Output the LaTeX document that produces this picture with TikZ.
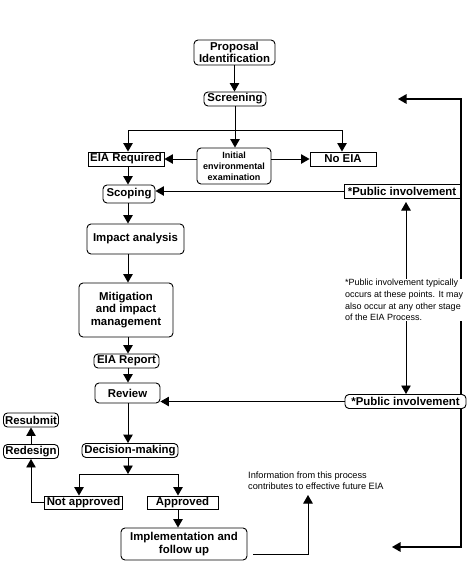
\documentclass[tikz,border=0pt]{standalone}
\usepackage{fontspec}
\setmainfont{Liberation Sans}
\usetikzlibrary{arrows.meta,calc,backgrounds}
\begin{document}
\begin{tikzpicture}[x=1pt,y=-1pt,
 tip/.tip={Triangle[length=8.5pt,width=9.5pt]},
 arr/.style={-tip, line width=0.9pt},
 arrb/.style={tip-tip, line width=0.9pt},
 ln/.style={line width=0.9pt},
 bx/.style={draw, line width=0.9pt, fill=white, inner sep=0pt, align=center, font=\fontsize{11.4}{12.8}\selectfont\bfseries},
 rb/.style={bx, rounded corners=4pt},
 sm/.style={font=\fontsize{9}{11}\selectfont\bfseries},
 note/.style={align=left, inner sep=0pt, fill=white, font=\fontsize{9}{11.7}\selectfont}
]
\useasboundingbox (0,0) rectangle (474,576);

% boxes
\node[rb, minimum width=81, minimum height=25] (prop) at (234.5,52.5) {Proposal\\Identification};
\node[rb, minimum width=62, minimum height=14] (screen) at (235,99) {Screening};
\node[bx, minimum width=76, minimum height=14] (eiareq) at (126,159) {EIA Required};
\node[rb, sm, minimum width=74, minimum height=36] (iee) at (234,166) {Initial\\environmental\\examination};
\node[bx, minimum width=66, minimum height=14] (noeia) at (343,159) {No EIA};
\node[rb, minimum width=52, minimum height=18] (scoping) at (129,194) {Scoping};
\node[bx, minimum width=116, minimum height=14] (pub1) at (402,191) {*Public involvement};
\node[rb, minimum width=97, minimum height=30] (impact) at (135.5,239) {Impact analysis};
\node[rb, minimum width=94, minimum height=54] (mitig) at (126,310) {Mitigation\\and impact\\management};
\node[rb, minimum width=65, minimum height=14] (report) at (126.5,361) {EIA Report};
\node[rb, minimum width=65, minimum height=20] (review) at (127.5,393) {Review};
\node[rb, minimum width=96, minimum height=14] (decision) at (130,450.5) {Decision-making};
\node[rb, minimum width=55, minimum height=14] (resubmit) at (31,420) {Resubmit};
\node[rb, minimum width=55, minimum height=14] (redesign) at (31,451.5) {Redesign};
\node[bx, minimum width=78, minimum height=13] (notappr) at (83.5,502.5) {Not approved};
\node[bx, minimum width=71, minimum height=13] (appr) at (182.5,502.5) {Approved};
\node[rb, minimum width=126, minimum height=32] (impl) at (184,544) {Implementation and\\follow up};
\node[rb, minimum width=121, minimum height=14] (pub2) at (405.5,401.5) {*Public involvement};

% coordinates
\coordinate (cx) at (128,0);
\coordinate (sl) at (128,130);
\coordinate (sr) at (342,130);
\coordinate (ds) at (128,474);
\coordinate (dl) at (79,474);
\coordinate (dr) at (178,474);
\coordinate (fbs) at (253,554);
\coordinate (fbe) at (308,495);
\coordinate (lt) at (398,99);
\coordinate (rt) at (461,99);
\coordinate (rbt) at (461,547);
\coordinate (lb) at (392,547);
\coordinate (va) at (406,202);
\coordinate (vb) at (406,394);

% connectors
\draw[arr] (prop.south) -- (prop.south |- screen.north);
\draw[arr] (screen.south) -- (screen.south |- iee.north);
\draw[ln] (sl) -- (sr);
\draw[arr] (sl) -- (sl |- eiareq.north);
\draw[arr] (sr) -- (sr |- noeia.north);
\draw[arr] (iee.west |- eiareq) -- (eiareq.east);
\draw[arr] (iee.east |- noeia) -- (noeia.west);
\draw[arr] (eiareq.south -| cx) -- (scoping.north -| cx);
\draw[arr] (pub1.west) -- (pub1.west -| scoping.east);
\draw[arr] (scoping.south -| cx) -- (impact.north -| cx);
\draw[arr] (impact.south -| cx) -- (mitig.north -| cx);
\draw[arr] (mitig.south -| cx) -- (report.north -| cx);
\draw[arr] (report.south -| cx) -- (review.north -| cx);
\draw[arr] (pub2.west) -- (pub2.west -| review.east);
\draw[arr] (review.south -| cx) -- (decision.north -| cx);
\draw[arr] (decision.south -| ds) -- (ds);
\draw[ln] (dl) -- (dr);
\draw[arr] (dl) -- (dl |- notappr.north);
\draw[arr] (dr) -- (dr |- appr.north);
\draw[arr] (appr.south -| dr) -- (dr |- impl.north);
\draw[arr] (notappr.west) -| (redesign.south);
\draw[arr] (redesign.north) -- (resubmit.south);
\draw[arr] (fbs) -| (fbe);

\begin{pgfonlayer}{background}
\fill[white] (0,0) rectangle (474,576);
\draw[arrb, line width=1.2pt] (lt) -- (rt) -- (rbt) -- (lb);
\draw[arrb] (va) -- (vb);
\end{pgfonlayer}

% notes
\node[note, anchor=west] (pnote) at (345,300) {*Public involvement typically\\occurs at these points. It may\\also occur at any other stage\\of the EIA Process.};
\node[note, anchor=north west, font=\fontsize{9.2}{11}\selectfont] (info) at (248,472) {Information from this process\\contributes to effective future EIA};
\end{tikzpicture}
\end{document}
